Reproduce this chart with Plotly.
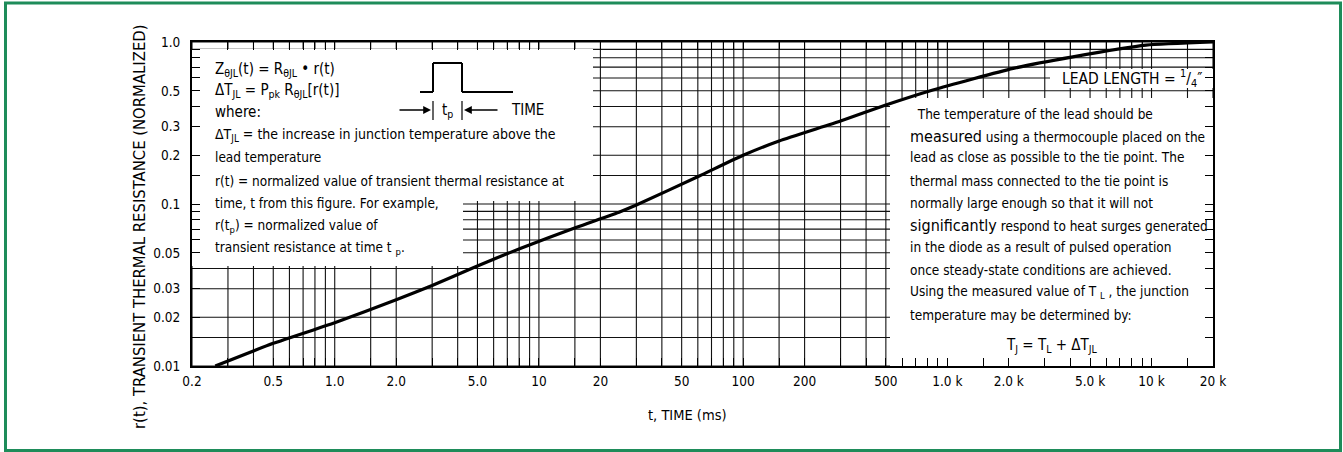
import math
import plotly.graph_objects as go

# ---------------- data ----------------
TIME_MS = [0.26, 0.5, 1.0, 2.0, 3.0, 4.8, 8.1, 15.3, 25, 30, 61, 100, 150, 300, 500, 850, 2100, 4120, 9400, 20000]
R_T = [0.0100, 0.0138, 0.0185, 0.0256, 0.0314, 0.0406, 0.0532, 0.0718, 0.0896, 0.0985, 0.149, 0.200, 0.245, 0.325, 0.408, 0.505, 0.687, 0.81, 0.956, 1.0]

X_GRID = [0.2, 0.3, 0.4, 0.5, 0.6, 0.7, 0.8, 0.9,
          1, 1.5, 2, 3, 4, 5, 6, 7, 8, 9,
          10, 15, 20, 30, 40, 50, 60, 70, 80, 90,
          100, 150, 200, 300, 400, 500, 600, 700, 800, 900,
          1000, 1500, 2000, 3000, 4000, 5000, 6000, 7000, 8000, 9000,
          10000, 15000, 20000]
X_TICK_VALUES = [0.2, 0.5, 1, 2, 5, 10, 20, 50, 100, 200, 500, 1000, 2000, 5000, 10000, 20000]
X_TICK_LABELS = ["0.2", "0.5", "1.0", "2.0", "5.0", "10", "20", "50", "100", "200", "500",
                 "1.0 k", "2.0 k", "5.0 k", "10 k", "20 k"]

Y_GRID = [0.01, 0.015, 0.02, 0.03, 0.04, 0.05, 0.06, 0.07, 0.08, 0.09,
          0.1, 0.15, 0.2, 0.3, 0.4, 0.5, 0.6, 0.7, 0.8, 0.9, 1.0]
Y_TICK_VALUES = [0.01, 0.02, 0.03, 0.05, 0.1, 0.2, 0.3, 0.5, 1.0]
Y_TICK_LABELS = ["0.01", "0.02", "0.03", "0.05", "0.1", "0.2", "0.3", "0.5", "1.0"]

X_TITLE = "t, TIME (ms)"
Y_TITLE = "r(t), TRANSIENT THERMAL RESISTANCE (NORMALIZED)"

LEFT_NOTES = [
    ("Z<sub>θJL</sub>(t) = R<sub>θJL</sub> • r(t)", 15),
    ("ΔT<sub>JL</sub> = P<sub>pk</sub> R<sub>θJL</sub>[r(t)]", 15),
    ("where:", 15),
    ("ΔT<sub>JL</sub> = the increase in junction temperature above the", 14),
    ("lead temperature", 13.5),
    ("r(t) = normalized value of transient thermal resistance at", 13.5),
    ("time, t from this figure. For example,", 13.5),
    ("r(t<sub>p</sub>) = normalized value of", 13.5),
    ("transient resistance at time t <sub>p</sub>.", 13.5),
]
RIGHT_NOTES = [
    "  The temperature of the lead should be",
    "<span style='font-size:16px'>measured</span> using a thermocouple placed on the",
    "lead as close as possible to the tie point. The",
    "thermal mass connected to the tie point is",
    "normally large enough so that it will not",
    "<span style='font-size:16px'>significantly</span> respond to heat surges generated",
    "in the diode as a result of pulsed operation",
    "once steady-state conditions are achieved.",
    "Using the measured value of T <sub>L</sub> , the junction",
    "temperature may be determined by:",
]
FORMULA = "T<sub>J</sub> = T<sub>L</sub> + ΔT<sub>JL</sub>"
LEAD_TEXT = "LEAD LENGTH = <sup>1</sup>/<sub>4</sub>″"

FONT = "Liberation Sans Narrow, DejaVu Sans Condensed, Arial Narrow, sans-serif"

# ---------------- geometry helpers (pixel -> paper/domain) ----------------
W, H = 1343, 452
L, R, T, B = 192, 1213, 42, 366


def px(x):
    return (x - L) / (R - L)


def py(y):
    return (B - y) / (B - T)


fig = go.Figure()
fig.add_trace(go.Scatter(x=TIME_MS, y=R_T, mode="lines",
                         line=dict(color="black", width=3.2, shape="spline", smoothing=0.5),
                         hoverinfo="skip", showlegend=False))

axis_common = dict(type="log", showgrid=False,
                   showline=True, linecolor="black", linewidth=2, mirror="allticks",
                   ticks="inside", ticklen=8, tickwidth=1.1, tickcolor="black",
                   zeroline=False, tickfont=dict(family=FONT, size=13.5, color="black"))
minor_common = dict(showgrid=False, ticks="inside", ticklen=8, tickwidth=1.1, tickcolor="black")

fig.update_xaxes(range=[math.log10(0.2), math.log10(20000)], tickmode="array",
                 tickvals=X_TICK_VALUES, ticktext=X_TICK_LABELS, ticklabelstandoff=2,
                 minor=dict(tickmode="array", tickvals=[v for v in X_GRID if v not in X_TICK_VALUES],
                            **minor_common),
                 **axis_common)
fig.update_yaxes(range=[-2, 0], tickmode="array", tickvals=Y_TICK_VALUES,
                 ticktext=Y_TICK_LABELS, ticklabelstandoff=7,
                 minor=dict(tickmode="array", tickvals=[v for v in Y_GRID if v not in Y_TICK_VALUES],
                            **minor_common),
                 **axis_common)

shapes = []
GRID_LINE = dict(color="#111111", width=1.1)
# grid lines (below the curve)
for v in X_GRID:
    shapes.append(dict(type="line", xref="x", yref="y domain", x0=v, x1=v, y0=0, y1=1,
                       line=GRID_LINE, layer="below"))
for v in Y_GRID:
    shapes.append(dict(type="line", xref="x domain", yref="y", x0=0, x1=1, y0=v, y1=v,
                       line=GRID_LINE, layer="below"))
# white panels hiding parts of the grid
for (x0, y0, x1, y1) in [(192, 49, 593, 201), (192, 201, 463, 266),
                         (1050, 69, 1213, 88), (890, 98, 1213, 366)]:
    shapes.append(dict(type="rect", xref="x domain", yref="y domain", x0=px(x0), x1=px(x1),
                       y0=py(y1), y1=py(y0), fillcolor="white", line=dict(width=0),
                       layer="below"))
# pulse sketch
pulse = [(420, 92), (433, 92), (433, 63), (462, 63), (462, 92), (513, 92)]
for (a, b) in zip(pulse[:-1], pulse[1:]):
    shapes.append(dict(type="line", xref="paper", yref="paper", x0=px(a[0]), y0=py(a[1]),
                       x1=px(b[0]), y1=py(b[1]), line=dict(color="black", width=2)))
for xb in (433, 462):
    shapes.append(dict(type="line", xref="paper", yref="paper", x0=px(xb), y0=py(101),
                       x1=px(xb), y1=py(120), line=dict(color="black", width=1.2)))
# green frame
shapes.append(dict(type="rect", xref="paper", yref="paper", x0=px(5.5), x1=px(1340.5),
                   y0=py(450.5), y1=py(3), line=dict(color="#1e8c5a", width=3),
                   fillcolor="rgba(0,0,0,0)", layer="above"))

ann = []


def text(x, y, s, size=13.5, xanchor="left", angle=0):
    ann.append(dict(x=px(x), y=py(y), xref="paper", yref="paper", text=s, showarrow=False,
                    xanchor=xanchor, yanchor="middle", textangle=angle,
                    font=dict(family=FONT, size=size, color="black")))


left_rows = [69, 90, 112, 135, 157, 181, 203, 226, 248]
for (s, size), yy in zip(LEFT_NOTES, left_rows):
    text(213, yy, s, size)

right_rows = [114, 136, 157, 181, 203, 225, 247, 270, 292, 315]
for s, yy in zip(RIGHT_NOTES, right_rows):
    text(908, yy, s, 13.5)
text(1052, 345, FORMULA, 15, xanchor="center")
text(1132, 78, LEAD_TEXT, 15.5, xanchor="center")

text(447, 111, "t<sub>p</sub>", 15, xanchor="center")
text(527, 110, "TIME", 15, xanchor="center")

# arrows
for (xt, dx) in [(431, -33), (464, 35)]:
    ann.append(dict(x=px(xt), y=py(110), xref="paper", yref="paper", ax=dx, ay=0,
                    text="", showarrow=True, arrowhead=2, arrowsize=1.2, arrowwidth=1.3,
                    arrowcolor="black"))

text(687, 415, X_TITLE, 14.5, xanchor="center")
ann.append(dict(x=px(139), y=py(227), xref="paper", yref="paper", text=Y_TITLE,
                showarrow=False, textangle=-90, xanchor="center", yanchor="middle",
                font=dict(family=FONT, size=16.5, color="black")))

fig.update_layout(width=W, height=H, autosize=False,
                  margin=dict(l=L, r=W - R, t=T, b=H - B, pad=0),
                  paper_bgcolor="white", plot_bgcolor="white",
                  shapes=shapes, annotations=ann, showlegend=False,
                  font=dict(family=FONT, color="black"))

fig.write_html("out.html", config={"displayModeBar": False},
               post_script="document.body.style.margin='0';document.body.style.overflow='hidden';")
